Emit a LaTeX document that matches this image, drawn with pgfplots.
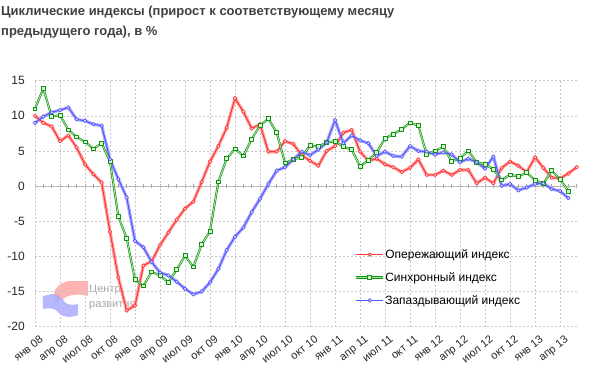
\documentclass[border=0pt]{standalone}
\usepackage{fontspec}
\setmainfont{Liberation Sans}
\usepackage{pgfplots}
\pgfplotsset{compat=1.18}
\usepackage{pgfplotstable}
\definecolor{rcore}{HTML}{FF3333}
\definecolor{rhalo}{HTML}{FFA0A0}
\definecolor{gcore}{HTML}{0E920E}
\definecolor{gin}{HTML}{A8E2A8}
\definecolor{bcore}{HTML}{5555FF}
\definecolor{bhalo}{HTML}{AAAAFF}
\definecolor{titlec}{HTML}{404040}
\definecolor{gridc}{HTML}{C8C8C8}

\pgfplotstableread{
i r
0 10.0
1 9.0
2 8.5
3 6.4
4 7.2
5 5.5
6 3.1
7 1.7
8 0.5
9 -6.5
10 -13.0
11 -17.7
12 -17.0
13 -11.3
14 -10.7
15 -8.4
16 -6.6
17 -4.8
18 -3.2
19 -2.2
20 0.6
21 3.5
22 5.7
23 8.3
24 12.5
25 10.6
26 8.2
27 8.8
28 4.9
29 4.9
30 6.4
31 6.0
32 4.4
33 3.6
34 2.9
35 5.0
36 5.7
37 7.6
38 8.0
39 4.9
40 3.6
41 3.9
42 3.1
43 2.7
44 2.0
45 2.6
46 3.8
47 1.6
48 1.6
49 2.2
50 1.6
51 2.3
52 2.3
53 0.4
54 1.2
55 0.4
56 2.6
57 3.5
58 2.9
59 2.0
60 4.1
61 2.6
62 1.2
63 1.1
64 1.8
65 2.7
}\red

\pgfplotstableread{
i g
0 11.0
1 13.9
2 9.9
3 10.1
4 8.0
5 7.0
6 6.3
7 5.3
8 6.1
9 3.5
10 -4.3
11 -7.4
12 -13.3
13 -14.2
14 -12.2
15 -12.7
16 -13.7
17 -11.9
18 -9.9
19 -11.5
20 -8.3
21 -6.4
22 0.6
23 3.9
24 5.3
25 4.3
26 6.7
27 8.6
28 9.6
29 7.6
30 3.3
31 3.8
32 4.1
33 5.8
34 5.6
35 6.2
36 6.4
37 5.6
38 5.2
39 2.8
40 3.7
41 4.8
42 6.8
43 7.4
44 8.1
45 9.0
46 8.6
47 4.5
48 5.0
49 5.6
50 3.5
51 4.0
52 5.0
53 3.4
54 3.1
55 2.4
56 0.9
57 1.6
58 1.4
59 1.9
60 0.85
61 0.35
62 2.2
63 1.0
64 -0.7
}\green

\pgfplotstableread{
i b
0 9.0
1 9.9
2 10.5
3 10.8
4 11.2
5 9.5
6 9.3
7 8.8
8 8.6
9 3.8
10 1.0
11 -1.6
12 -7.8
13 -8.7
14 -10.8
15 -12.3
16 -12.7
17 -13.6
18 -14.6
19 -15.4
20 -15.0
21 -13.7
22 -11.8
23 -9.1
24 -7.2
25 -5.9
26 -3.7
27 -1.8
28 0.3
29 2.2
30 2.7
31 3.8
32 4.9
33 4.4
34 5.2
35 6.2
36 9.4
37 6.1
38 7.2
39 6.5
40 6.1
41 4.3
42 4.9
43 4.3
44 4.2
45 5.7
46 5.0
47 4.9
48 4.5
49 4.8
50 4.5
51 3.4
52 3.9
53 3.4
54 2.5
55 4.2
56 0.05
57 0.3
58 -0.6
59 -0.2
60 0.3
61 0.4
62 -0.4
63 -0.7
64 -1.7
}\blue

\begin{document}
\begin{tikzpicture}
% pixel-coordinate scope: (X,Y) in reference pixels
\begin{scope}[x=1pt,y=-1pt,shift={(-35pt,326.7pt)}]
  \path[use as bounding box] (0,0) rectangle (600,386);
  \node[anchor=north west, align=left, inner sep=0pt, text=titlec,
        font=\fontsize{13}{20}\selectfont\bfseries] at (1,6)
        {Циклические индексы (прирост к соответствующему месяцу\\предыдущего года), в \%};
  % watermark
  \fill[rhalo, opacity=0.8] (54,292) .. controls (58,284) and (64,281) .. (72,281) -- (88,281) -- (88,296)
     .. controls (80,294) and (72,294) .. (66,297) .. controls (62,300) and (58,302) .. (55,302) -- cycle;
  \fill[bhalo, opacity=0.85] (43,296) -- (52,294) .. controls (58,294) and (62,297) .. (64,301)
     .. controls (66,304) and (70,306) .. (78,304) -- (78,315) .. controls (68,319) and (60,316) .. (57,311)
     .. controls (54,308) and (48,308) .. (43,309) -- cycle;
  \node[anchor=west, inner sep=0pt, text=gray!70, font=\fontsize{11}{13}\selectfont] at (89,290) {Центр};
  \node[anchor=west, inner sep=0pt, text=gray!70, font=\fontsize{11}{13}\selectfont] at (89,306) {развития};
\end{scope}

% zero line with monthly ticks
\begin{axis}[
  scale only axis, width=541.7pt, height=246pt,
  xmin=0, xmax=65, ymin=-20, ymax=15,
  axis x line=middle, axis y line=none,
  x axis line style={-, draw=gray!70, line width=0.8pt},
  xtick={0,...,65}, xticklabels={}, ytick=\empty,
  major tick length=3.5pt, tick align=center,
  tick style={draw=gray!70, line width=0.5pt},
]
\end{axis}

\begin{axis}[
  scale only axis, width=541.7pt, height=246pt,
  xmin=0, xmax=65, ymin=-20, ymax=15,
  axis line style={draw=none},
  xtick={0,3,...,63},
  xticklabels={янв 08, апр 08, июл 08, окт 08, янв 09, апр 09, июл 09, окт 09, янв 10, апр 10, июл 10, окт 10, янв 11, апр 11, июл 11, окт 11, янв 12, апр 12, июл 12, окт 12, янв 13, апр 13},
  ytick={-20,-15,...,15},
  major tick length=0pt,
  grid=major,
  grid style={draw=gridc, line width=0.5pt, dash pattern=on 2pt off 2pt},
  /pgf/number format/assume math mode=true,
  tick label style={text=black!85},
  yticklabel style={font=\fontsize{12}{14}\selectfont, anchor=east, inner sep=0pt, xshift=-10pt},
  xticklabel style={font=\fontsize{11}{13}\selectfont, yshift=-8pt, xshift=4pt, rotate=38, anchor=north east, inner sep=0pt},
  legend style={at={(axis cs:38.4,-13.0)}, anchor=west, draw=none, fill=none,
     inner sep=0pt, font=\fontsize{12}{14}\selectfont, row sep=10.5pt,
     nodes={inner sep=1pt}},
  legend cell align=left,
  legend image code/.code={\draw[mark repeat=2,mark phase=2,#1] plot coordinates {(0pt,0pt) (13.5pt,0pt) (27pt,0pt)};},
]
% halos
\addplot[rhalo, line width=3.2pt, forget plot, line join=round] table[x=i,y=r] {\red};
\addplot[bhalo, line width=3.2pt, forget plot, line join=round] table[x=i,y=b] {\blue};
% red
\addplot[rcore, line width=1.0pt, line join=round, mark=*, mark size=1.8pt,
  mark options={fill=white!60!rhalo, draw=rcore, line width=0.7pt}] table[x=i,y=r] {\red};
\addlegendentry{Опережающий индекс}
% green
\addplot[gcore, line width=0.6pt, double=gin, double distance=0.9pt, line join=round,
  mark=square*, mark size=1.9pt, mark options={fill=gin!40, draw=gcore, line width=0.8pt, double=none}] table[x=i,y=g] {\green};
\addlegendentry{Синхронный индекс}
% blue
\addplot[bcore, line width=1.0pt, line join=round, mark=*, mark size=1.8pt,
  mark options={fill=white!60!bhalo, draw=bcore, line width=0.7pt}] table[x=i,y=b] {\blue};
\addlegendentry{Запаздывающий индекс}
\end{axis}
\end{tikzpicture}
\end{document}
